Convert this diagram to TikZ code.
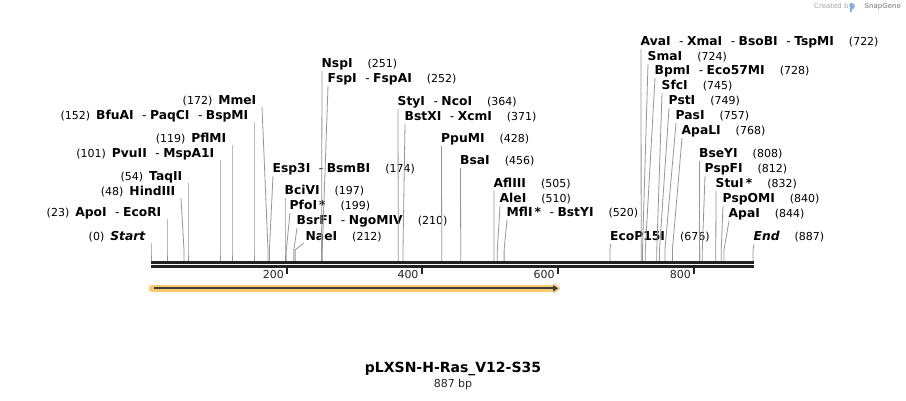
\documentclass[tikz,border=0pt]{standalone}
\usepackage{fontspec}
\setmainfont{DejaVu Sans}
\usetikzlibrary{arrows.meta}
\definecolor{cutgray}{RGB}{150,150,150}
\definecolor{backbone}{RGB}{34,34,34}
\definecolor{featfill}{RGB}{250,200,112}
\definecolor{featline}{RGB}{60,60,60}
\newcommand\nmf[1]{{\fontsize{12.3}{14}\selectfont\bfseries #1}}
\newcommand\dsh{\hspace{8.5pt}{\mdseries -}\hspace{3.5pt}}
\newcommand\gapL{\hspace{6pt}}
\newcommand\gapR{\hspace{15pt}}
\tikzset{
  lab/.style={font=\fontsize{11}{13}\selectfont, inner sep=0pt, text=black},
  cut/.style={draw=cutgray, line width=0.8pt},
}
% id, y of text, x of line top, x at backbone, text
\newcommand\cutR[5]{%
  \node[lab,anchor=west] (#1) at (#3-0.5,#2) {#5};
  \coordinate (#1t) at (#3,#2+7);
  \coordinate (#1m) at (#4,250);
  \coordinate (#1b) at (#4,261);
  \draw[cut] (#1t) -- (#1m) -- (#1b);
}
\newcommand\cutL[5]{%
  \node[lab,anchor=east] (#1) at (#3-5.5,#2) {#5};
  \coordinate (#1t) at (#3,#2+6);
  \coordinate (#1m) at (#4,250);
  \coordinate (#1b) at (#4,261);
  \draw[cut] (#1t) -- (#1m) -- (#1b);
}
\begin{document}
\begin{tikzpicture}[x=1pt,y=-1pt]
\path[use as bounding box, fill=white] (0,0) rectangle (906,400);

% left-side labels
\cutL{start}{237}{151}{151}{(0)\gapL\nmf{\itshape Start}}
\cutL{apo}{213}{167}{167}{(23)\gapL\nmf{ApoI\dsh EcoRI}}
\cutL{hind}{192}{181}{184}{(48)\gapL\nmf{HindIII}}
\cutL{taq}{177}{188}{188}{(54)\gapL\nmf{TaqII}}
\cutL{pvu}{154}{220}{220}{(101)\gapL\nmf{PvuII\dsh MspA1I}}
\cutL{pfl}{139}{232}{232}{(119)\gapL\nmf{PflMI}}
\cutL{bfu}{116}{254}{254}{(152)\gapL\nmf{BfuAI\dsh PaqCI\dsh BspMI}}
\cutL{mme}{101}{262}{268}{(172)\gapL\nmf{MmeI}}

% right-side labels
\cutR{esp}{169}{273}{269.4}{\nmf{Esp3I\dsh BsmBI}\gapR(174)}
\cutR{bci}{191}{285}{285}{\nmf{BciVI}\gapR(197)}
\cutR{pfo}{206}{290}{286.3}{\nmf{PfoI\,*}\gapR(199)}
\cutR{bsr}{221}{297}{293.8}{\nmf{BsrFI\dsh NgoMIV}\gapR(210)}
\node[lab,anchor=west] (nae) at (305.5,237) {\nmf{NaeI}\gapR(212)};
\coordinate (naet) at (304,243);
\coordinate (naem) at (295.1,250);
\coordinate (naeb) at (295.1,261);
\draw[cut] (naet) -- (naem) -- (naeb);
\cutR{nsp}{64}{322}{321.6}{\nmf{NspI}\gapR(251)}
\cutR{fsp}{79}{328}{322.3}{\nmf{FspI\dsh FspAI}\gapR(252)}
\cutR{sty}{102}{398}{398.3}{\nmf{StyI\dsh NcoI}\gapR(364)}
\cutR{bstx}{117}{405}{403}{\nmf{BstXI\dsh XcmI}\gapR(371)}
\cutR{ppu}{139}{441.5}{441.7}{\nmf{PpuMI}\gapR(428)}
\cutR{bsa}{161}{460.5}{460.7}{\nmf{BsaI}\gapR(456)}
\cutR{afl}{184}{494}{493.9}{\nmf{AflIII}\gapR(505)}
\cutR{ale}{199}{500}{497.3}{\nmf{AleI}\gapR(510)}
\cutR{mfl}{213}{507}{504.1}{\nmf{MflI\,*\dsh BstYI}\gapR(520)}
\cutR{eco}{237}{610.5}{610}{\nmf{EcoP15I}\gapR(676)}
\cutR{ava}{42}{641}{641.2}{\nmf{AvaI\dsh XmaI\dsh BsoBI\dsh TspMI}\gapR(722)}
\cutR{sma}{57}{648}{642.5}{\nmf{SmaI}\gapR(724)}
\cutR{bpm}{71}{655}{645.3}{\nmf{BpmI\dsh Eco57MI}\gapR(728)}
\cutR{sfc}{86}{662}{656.8}{\nmf{SfcI}\gapR(745)}
\cutR{pst}{101}{669}{659.5}{\nmf{PstI}\gapR(749)}
\cutR{pas}{116}{676}{664.9}{\nmf{PasI}\gapR(757)}
\cutR{apal}{131}{682}{672.4}{\nmf{ApaLI}\gapR(768)}
\cutR{bsey}{154}{699.5}{699.6}{\nmf{BseYI}\gapR(808)}
\cutR{pspf}{169}{705}{702.3}{\nmf{PspFI}\gapR(812)}
\cutR{stu}{184}{716}{715.8}{\nmf{StuI\,*}\gapR(832)}
\cutR{pspo}{199}{723}{721.2}{\nmf{PspOMI}\gapR(840)}
\cutR{apa}{214}{729}{724}{\nmf{ApaI}\gapR(844)}
\cutR{end}{237}{754}{753}{\nmf{\itshape End}\gapR(887)}

% backbone
\coordinate (bbs1) at (151,262.5);
\coordinate (bbe1) at (754,262.5);
\coordinate (bbs2) at (151,266.5);
\coordinate (bbe2) at (754,266.5);
\draw[backbone, line width=2.2pt] (bbs1) -- (bbe1);
\draw[backbone, line width=2.2pt] (bbs2) -- (bbe2);

% ticks
\foreach \n/\xx in {200/287, 400/421.7, 600/557.7, 800/694}{
  \coordinate (tk\n a) at (\xx,268);
  \coordinate (tk\n b) at (\xx,273.5);
  \draw[backbone, line width=1.8pt] (tk\n a) -- (tk\n b);
  \node[lab, anchor=east, text=black!85] (tl\n) at (\xx-3,274) {\n};
}

% feature arrow
\coordinate (fs) at (152,288.3);
\coordinate (fe) at (560,288.3);
\coordinate (fi) at (154,288.3);
\coordinate (fj) at (558,288.3);
\draw[featfill, line width=6.5pt, line cap=round,
  -{Triangle[length=7pt,width=11pt,round]}] (fs) -- (fe);
\draw[featline, line width=1.8pt,
  -{Triangle[length=5pt,width=6pt]}] (fi) -- (fj);

% title
\node[font=\fontsize{14}{16}\selectfont\bfseries, inner sep=0pt] (title) at (453,369) {pLXSN-H-Ras\_V12-S35};
\node[lab, text=black!85] (len) at (453,384) {887 bp};

% watermark
\node[font=\fontsize{7}{8}\selectfont, inner sep=0pt, anchor=east] (snap) at (901,7)
  {{\color{black!35}Created by}\hspace{12pt}{\color{black!55}SnapGene}};
\fill[cyan!60!blue!50] (849.5,3) rectangle (852,12);
\fill[cyan!60!blue!50] (852,3) -- (854.5,4.5) -- (854.5,8) -- (852,9.5) -- cycle;
\end{tikzpicture}
\end{document}
